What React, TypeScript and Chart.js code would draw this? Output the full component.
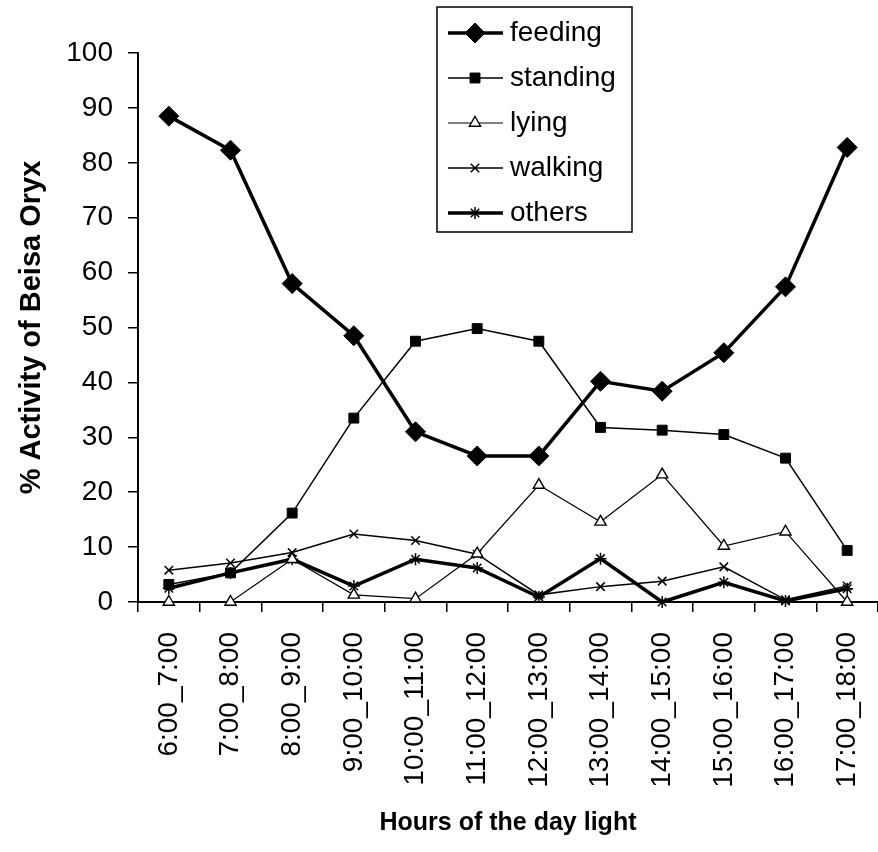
import React, { useEffect, useRef } from "react";
import { Chart, registerables, PointElement } from "chart.js";

Chart.register(...registerables);

const categories = [
  "6:00_7:00",
  "7:00_8:00",
  "8:00_9:00",
  "9:00_10:00",
  "10:00_11:00",
  "11:00_12:00",
  "12:00_13:00",
  "13:00_14:00",
  "14:00_15:00",
  "15:00_16:00",
  "16:00_17:00",
  "17:00_18:00",
];

const feeding = [88.5, 82.3, 58, 48.5, 31, 26.6, 26.6, 40.2, 38.4, 45.4, 57.4, 82.8];
const standing = [3.2, 5.3, 16.2, 33.5, 47.5, 49.8, 47.5, 31.8, 31.3, 30.5, 26.2, 9.4];
const lying = [0, 0, 7.8, 1.3, 0.6, 8.8, 21.3, 14.6, 23.2, 10.2, 12.8, 0];
const walking = [5.8, 7.1, 9, 12.4, 11.2, 8.7, 1.3, 2.8, 3.8, 6.4, 0.4, 2.9];
const others = [2.5, 5.3, 7.8, 2.9, 7.8, 6.2, 0.9, 7.9, 0, 3.6, 0.2, 2.4];

const seriesNames = ["feeding", "standing", "lying", "walking", "others"];

const FONT = "Arial, 'Liberation Sans', sans-serif";

const boxLegend = {
  id: "boxLegend",
  afterDraw(chart: any) {
    const ctx = chart.ctx as CanvasRenderingContext2D;
    const left = 437;
    const top = 7;
    const w = 195;
    const h = 225;
    ctx.save();
    ctx.fillStyle = "#ffffff";
    ctx.fillRect(left, top, w, h);
    ctx.strokeStyle = "#000000";
    ctx.lineWidth = 1.5;
    ctx.strokeRect(left, top, w, h);
    chart.data.datasets.forEach((ds: any, i: number) => {
      const y = 33 + i * 45;
      ctx.strokeStyle = "#000";
      ctx.lineWidth = ds.borderWidth;
      ctx.beginPath();
      ctx.moveTo(448, y);
      ctx.lineTo(503, y);
      ctx.stroke();
      const pt: any = new (PointElement as any)({
        x: 475,
        y,
        options: {
          pointStyle: ds.pointStyle,
          radius: ds.pointRadius,
          rotation: 0,
          borderWidth: ds.pointBorderWidth,
          backgroundColor: ds.pointBackgroundColor,
          borderColor: ds.pointBorderColor,
        },
      });
      pt.draw(ctx);
      ctx.fillStyle = "#000";
      ctx.font = `28px ${FONT}`;
      ctx.textAlign = "left";
      ctx.textBaseline = "middle";
      ctx.fillText(ds.label, 510, y);
    });
    ctx.restore();
  },
};

export default function App() {
  const ref = useRef<HTMLCanvasElement | null>(null);

  useEffect(() => {
    if (!ref.current) return;
    const mk = (
      label: string,
      data: number[],
      width: number,
      style: string,
      radius: number,
      fill: string,
      pbw: number
    ) => ({
      label,
      data,
      borderColor: "#000",
      borderWidth: width,
      pointStyle: style,
      pointRadius: radius,
      pointBackgroundColor: fill,
      pointBorderColor: "#000",
      pointBorderWidth: pbw,
      tension: 0,
      fill: false,
      clip: false,
    });
    const chart = new Chart(ref.current, {
      type: "line",
      data: {
        labels: categories,
        datasets: [
          mk(seriesNames[0], feeding, 3.5, "rectRot", 10, "#000", 1),
          mk(seriesNames[1], standing, 1.5, "rect", 7, "#000", 1),
          mk(seriesNames[2], lying, 1.2, "triangle", 6.5, "#fff", 1.4),
          mk(seriesNames[3], walking, 1.5, "crossRot", 6, "#000", 1.5),
          mk(seriesNames[4], others, 3.5, "star", 6, "#000", 1.5),
        ] as any,
      },
      options: {
        animation: false,
        responsive: true,
        maintainAspectRatio: false,
        layout: {
          autoPadding: false,
          padding: { top: 53, right: 0, left: 0, bottom: 0 },
        },
        plugins: {
          legend: { display: false },
          tooltip: { enabled: false },
        },
        scales: {
          x: {
            type: "category",
            offset: true,
            grid: {
              display: true,
              drawOnChartArea: false,
              drawTicks: true,
              tickLength: 10,
              color: "#000",
              lineWidth: 1.5,
              offset: true,
            },
            border: { display: true, color: "#000", width: 2 },
            ticks: {
              color: "#000",
              font: { size: 28, family: FONT },
              minRotation: 90,
              maxRotation: 90,
              padding: 20,
              autoSkip: false,
            },
            title: {
              display: true,
              text: "Hours of the day light",
              color: "#000",
              font: { size: 25, weight: "bold", family: FONT },
              padding: { top: 0, bottom: 14 },
            },
            afterFit: (s: any) => {
              s.height = 250;
              s.paddingLeft = 0;
              s.paddingRight = 0;
            },
          },
          y: {
            min: 0,
            max: 100,
            ticks: {
              stepSize: 10,
              color: "#000",
              font: { size: 28, family: FONT },
              padding: 15,
            },
            grid: {
              display: true,
              drawOnChartArea: false,
              tickLength: 10,
              color: "#000",
              lineWidth: 1.5,
            },
            border: { display: true, color: "#000", width: 2 },
            title: {
              display: true,
              text: "% Activity of Beisa Oryx",
              color: "#000",
              font: { size: 29, weight: "bold", family: FONT },
              padding: { top: 15, bottom: 0 },
            },
            afterFit: (s: any) => {
              s.width = 138;
            },
          },
        },
      } as any,
      plugins: [boxLegend],
    });
    return () => chart.destroy();
  }, []);

  return (
    <div
      style={{
        position: "absolute",
        left: 0,
        top: 0,
        width: 878,
        height: 852,
        background: "#fff",
      }}
    >
      <canvas ref={ref} />
    </div>
  );
}
